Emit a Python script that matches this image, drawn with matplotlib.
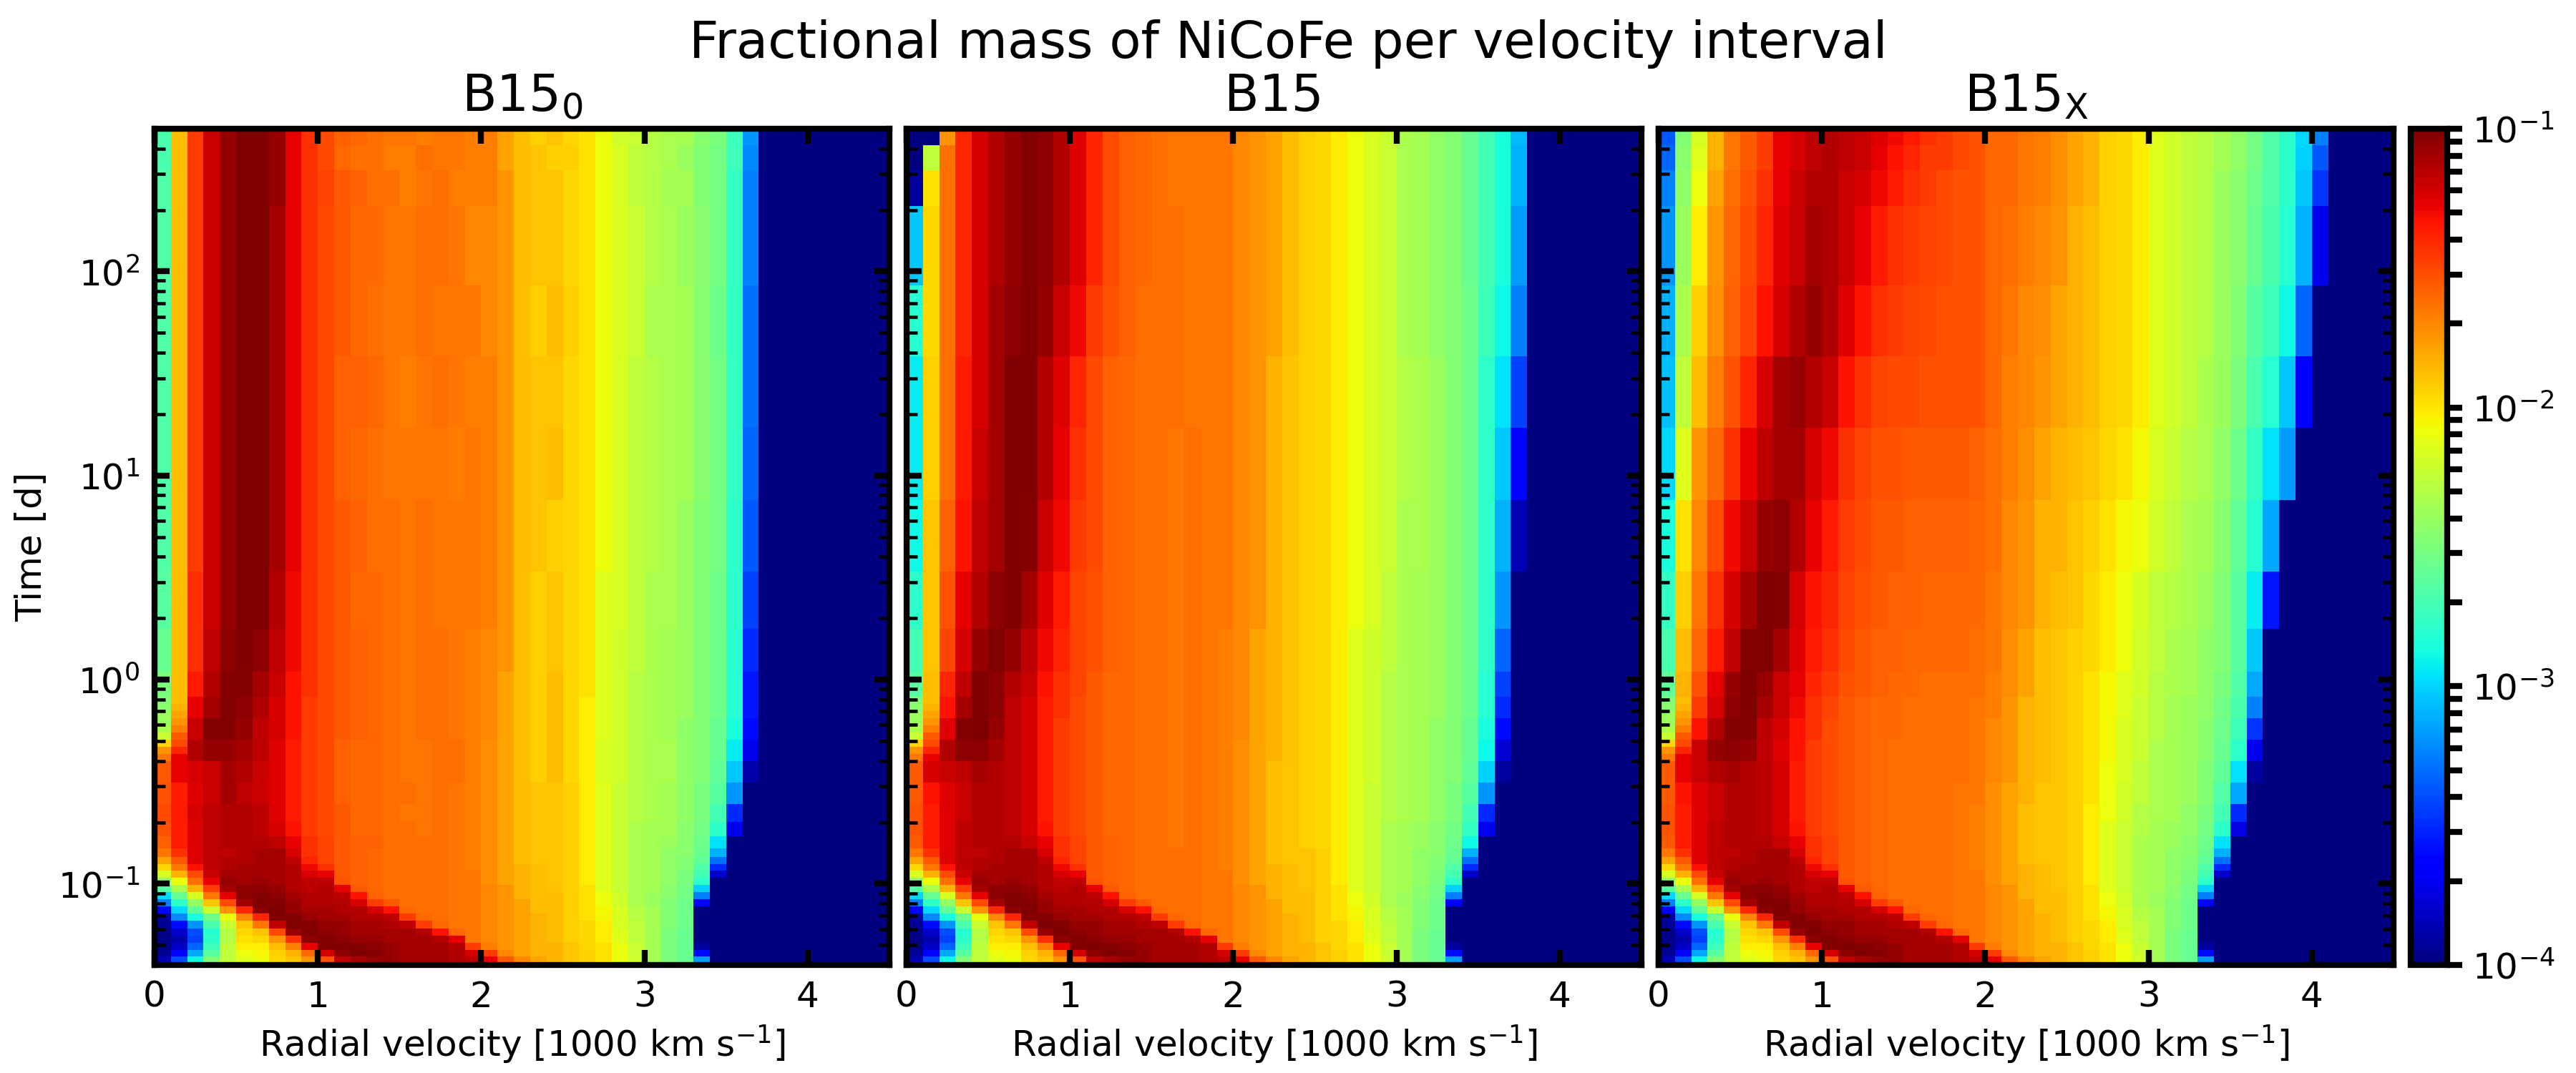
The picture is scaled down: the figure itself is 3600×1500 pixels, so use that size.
import numpy as np
import matplotlib
matplotlib.use('Agg')
import matplotlib.pyplot as plt
from matplotlib.colors import LogNorm
from matplotlib.ticker import LogLocator, NullFormatter

# Values: position along it in percent
# (0 = 1e-4, 100 = 1e-1), one inner list per 100 km/s velocity bin, early to late.

panel_titles = ['B15$_0$', 'B15', 'B15$_{\\rm X}$']
fig_title = 'Fractional mass of NiCoFe per velocity interval'
x_label = 'Radial velocity [1000 km s$^{-1}$]'
y_label = 'Time [d]'

velocity_edges = np.arange(46) * 0.1
time_edges = [0.040, 0.0439, 0.0475, 0.0515, 0.0558, 0.0605, 0.0658, 0.0713, 0.0773, 0.0838, 0.0908, 0.0984,
              0.1067, 0.1156, 0.1253, 0.1358, 0.1496, 0.1706, 0.2004, 0.2449, 0.3126, 0.398, 0.507, 0.647,
              0.824, 1.094, 1.774, 3.39, 7.60, 17.1, 38.3, 85.7, 209, 313, 414, 500]

# my first readings ran low against the colour bar, this corrects them
read_scale = [0, 5, 11, 18, 22, 27, 33, 37, 42, 48, 53, 57, 61, 64, 66, 67, 70, 72, 75, 78, 82, 85, 87, 89, 91, 93, 95, 97, 100]
true_scale = [0, 5, 12.5, 20, 25, 30, 34.5, 39.5, 44, 49, 53.6, 58, 62, 66, 68, 69, 72, 75, 77.5, 80, 83, 85.6, 88, 90, 91.5, 93.4, 95.6, 97.8, 100]

# first 16 time bins, nearly the same in all three models
early = [
    [5, 2, 1, 1, 1, 2, 3, 10, 22, 32, 44, 52, 60, 66, 71, 76],
    [18, 11, 6, 4, 6, 12, 23, 32, 38, 46, 55, 62, 70, 76, 80, 85],
    [35, 26, 20, 17, 18, 24, 36, 45, 52, 60, 70, 77, 82, 88, 91, 91],
    [50, 44, 40, 38, 37, 42, 47, 58, 68, 76, 84, 90, 93, 94, 94, 94],
    [57, 57, 57, 56, 56, 58, 62, 72, 82, 90, 96, 97, 96, 95, 95, 94],
    [61, 62, 64, 65, 66, 68, 74, 86, 96, 98, 98, 96, 96, 96, 95, 95],
    [62, 63, 64, 66, 68, 76, 86, 98, 100, 99, 98, 97, 96, 96, 96, 96],
    [66, 67, 69, 72, 82, 94, 99, 100, 99, 98, 97, 96, 96, 96, 96, 96],
    [68, 70, 75, 85, 97, 100, 99, 97, 97, 96, 95, 95, 95, 95, 94, 92],
    [72, 78, 90, 98, 100, 99, 97, 96, 95, 95, 94, 94, 92, 89, 86, 85],
    [81, 92, 99, 100, 98, 97, 96, 96, 95, 95, 95, 94, 90, 85, 83, 83],
    [94, 98, 100, 98, 97, 97, 96, 95, 95, 94, 90, 81, 80, 80, 80, 80],
    [96, 100, 99, 97, 96, 96, 95, 95, 92, 88, 80, 79, 79, 79, 79, 79],
    [97, 99, 98, 97, 96, 96, 95, 92, 84, 79, 78, 78, 78, 78, 78, 78],
    [97, 97, 97, 96, 96, 95, 94, 88, 80, 77, 77, 77, 77, 77, 77, 77],
    [96, 96, 96, 96, 96, 94, 84, 78, 77, 77, 77, 77, 77, 77, 77, 77],
    [96, 96, 96, 96, 95, 84, 78, 77, 77, 77, 77, 77, 77, 77, 77, 77],
    [96, 96, 96, 95, 88, 78, 77, 77, 77, 77, 77, 77, 77, 77, 77, 77],
    [95, 95, 95, 90, 78, 76, 76, 76, 76, 76, 76, 76, 76, 76, 76, 76],
    [94, 92, 84, 76, 76, 76, 76, 76, 76, 76, 76, 76, 76, 75, 75, 75],
    [90, 84, 75, 74, 74, 74, 74, 74, 74, 74, 74, 73, 73, 73, 73, 73],
    [80, 74, 72, 72, 72, 72, 72, 72, 72, 72, 72, 71, 71, 71, 71, 71],
    [74, 71, 71, 71, 71, 71, 71, 71, 71, 70, 70, 70, 70, 70, 69, 69],
    [71, 70, 70, 70, 70, 70, 70, 69, 69, 69, 69, 69, 69, 69, 68, 68],
    [70, 70, 70, 69, 69, 69, 69, 69, 69, 69, 68, 68, 68, 68, 68, 68],
    [68, 68, 68, 67, 67, 67, 67, 67, 67, 67, 67, 67, 67, 67, 67, 67],
    [67, 67, 66, 66, 66, 66, 65, 65, 65, 65, 65, 64, 64, 64, 64, 64],
    [65, 65, 65, 64, 64, 64, 63, 63, 62, 62, 61, 61, 61, 61, 61, 61],
    [62, 62, 62, 61, 61, 60, 60, 60, 59, 59, 58, 58, 58, 58, 58, 58],
    [59, 58, 58, 57, 57, 57, 56, 56, 55, 55, 55, 55, 55, 55, 55, 55],
    [54, 54, 54, 54, 54, 54, 54, 54, 53, 53, 54, 54, 54, 54, 54, 54],
    [49, 49, 49, 49, 49, 50, 50, 50, 50, 51, 51, 52, 52, 52, 52, 52],
    [46, 46, 46, 46, 46, 47, 47, 47, 47, 48, 48, 49, 49, 50, 50, 51],
    [25, 12, 3, 0, 0, 0, 0, 0, 10, 22, 31, 38, 41, 43, 45, 46],
    [0, 0, 0, 0, 0, 0, 0, 0, 0, 0, 0, 0, 6, 15, 21, 27],
]

# remaining 19 time bins per model
late_b15_0 = [
    [79, 81, 82, 81, 80, 68, 58, 52, 49, 46, 44, 43, 43, 43, 43, 43, 43, 42, 42],
    [87, 87, 87, 87, 90, 84, 71, 70, 69, 69, 69, 69, 69, 69, 69, 69, 69, 69, 69],
    [91, 91, 92, 91, 92, 95, 93, 90, 87, 85, 85, 84, 84, 84, 84, 84, 84, 84, 84],
    [94, 94, 94, 93, 93, 97, 99, 96, 95, 94, 93, 93, 93, 93, 93, 93, 93, 93, 93],
    [95, 95, 95, 96, 96, 97, 99, 99, 99, 98, 97, 97, 97, 97, 97, 97, 97, 97, 97],
    [95, 95, 95, 94, 95, 96, 97, 98, 99, 100, 100, 100, 100, 100, 100, 100, 100, 100, 100],
    [95, 94, 94, 93, 93, 94, 94, 95, 96, 98, 100, 100, 100, 100, 100, 100, 100, 100, 100],
    [94, 92, 91, 91, 91, 91, 92, 92, 93, 94, 95, 96, 96, 96, 96, 96, 97, 97, 97],
    [90, 88, 87, 87, 87, 87, 88, 88, 88, 89, 89, 90, 90, 90, 90, 90, 90, 90, 90],
    [85, 84, 84, 84, 84, 84, 84, 84, 85, 85, 85, 85, 85, 85, 85, 85, 85, 85, 85],
    [83, 82, 82, 82, 82, 82, 82, 82, 82, 82, 82, 82, 82, 82, 82, 82, 83, 82, 82],
    [80, 80, 80, 79, 79, 79, 80, 80, 80, 80, 80, 80, 79, 79, 80, 80, 80, 78, 79],
    [79, 78, 78, 78, 78, 78, 79, 79, 79, 79, 78, 79, 78, 79, 78, 78, 79, 77, 78],
    [79, 78, 78, 78, 78, 78, 78, 78, 78, 78, 78, 77, 77, 78, 77, 78, 77, 77, 77],
    [77, 77, 77, 77, 77, 77, 77, 77, 77, 77, 77, 77, 76, 76, 76, 76, 77, 75, 76],
    [77, 77, 76, 77, 76, 76, 76, 76, 76, 76, 76, 76, 76, 75, 76, 76, 75, 75, 76],
    [77, 76, 76, 76, 76, 76, 77, 77, 77, 77, 77, 77, 76, 76, 77, 77, 76, 77, 75],
    [77, 77, 77, 77, 77, 77, 77, 77, 77, 77, 76, 76, 76, 77, 76, 77, 77, 76, 76],
    [76, 76, 76, 76, 77, 77, 76, 76, 76, 76, 76, 76, 75, 76, 76, 76, 75, 76, 76],
    [75, 75, 75, 75, 75, 75, 75, 75, 75, 75, 76, 76, 76, 75, 76, 74, 75, 75, 75],
    [73, 73, 73, 73, 73, 73, 74, 74, 74, 74, 75, 75, 75, 75, 74, 74, 75, 75, 75],
    [71, 71, 71, 71, 71, 71, 71, 71, 71, 72, 72, 72, 72, 72, 72, 72, 72, 71, 71],
    [69, 69, 69, 69, 69, 69, 69, 69, 69, 69, 69, 69, 69, 69, 69, 69, 69, 69, 69],
    [68, 68, 68, 68, 67, 67, 67, 67, 67, 67, 67, 68, 68, 68, 67, 68, 68, 68, 67],
    [68, 68, 68, 68, 69, 69, 69, 69, 69, 68, 68, 67, 69, 68, 69, 68, 68, 67, 68],
    [67, 67, 67, 67, 66, 66, 66, 66, 66, 66, 66, 66, 66, 66, 67, 66, 66, 67, 66],
    [64, 64, 64, 64, 64, 64, 64, 64, 65, 65, 65, 65, 65, 65, 65, 65, 65, 65, 65],
    [61, 61, 61, 61, 60, 60, 61, 61, 61, 61, 61, 62, 62, 62, 62, 62, 62, 62, 62],
    [58, 58, 58, 58, 59, 59, 59, 59, 59, 59, 60, 60, 60, 60, 60, 60, 60, 60, 59],
    [55, 55, 56, 56, 56, 56, 56, 56, 56, 57, 57, 57, 57, 57, 58, 58, 57, 57, 58],
    [54, 54, 55, 55, 55, 55, 55, 55, 55, 55, 55, 56, 56, 56, 55, 56, 56, 56, 56],
    [53, 54, 54, 54, 55, 55, 54, 54, 54, 54, 55, 55, 55, 55, 55, 55, 54, 55, 55],
    [51, 51, 52, 52, 52, 52, 52, 53, 53, 53, 53, 53, 54, 54, 54, 53, 54, 53, 54],
    [47, 48, 49, 49, 50, 50, 50, 50, 50, 50, 50, 50, 51, 51, 51, 51, 50, 50, 51],
    [33, 38, 41, 44, 45, 46, 46, 47, 47, 47, 47, 48, 48, 48, 47, 48, 48, 48, 49],
    [0, 9, 15, 24, 30, 34, 36, 37, 37, 37, 38, 38, 39, 39, 39, 39, 39, 40, 40],
    [0, 0, 0, 0, 4, 9, 12, 13, 13, 15, 17, 19, 20, 21, 21, 22, 22, 23, 24],
]

late_b15 = [
    [80, 81, 81, 80, 80, 72, 52, 47, 44, 41, 38, 35, 34, 34, 37, 30, 3, 0, 0],
    [87, 87, 87, 88, 92, 88, 77, 71, 69, 68, 68, 68, 67, 67, 66, 66, 65, 57, 0],
    [91, 91, 91, 91, 93, 95, 91, 88, 86, 83, 81, 79, 77, 77, 77, 77, 77, 77, 72],
    [94, 94, 93, 93, 94, 98, 99, 96, 94, 92, 90, 88, 87, 87, 86, 86, 86, 86, 86],
    [95, 95, 95, 95, 96, 98, 100, 100, 100, 97, 95, 94, 93, 92, 92, 92, 92, 92, 92],
    [95, 95, 95, 95, 95, 96, 97, 98, 98, 100, 98, 96, 96, 96, 96, 95, 95, 95, 95],
    [95, 94, 94, 94, 94, 94, 94, 94, 95, 97, 100, 100, 100, 100, 98, 97, 97, 97, 97],
    [93, 92, 92, 92, 92, 92, 92, 92, 93, 94, 96, 99, 100, 100, 100, 99, 99, 99, 99],
    [90, 88, 87, 87, 87, 87, 87, 87, 88, 89, 91, 93, 95, 95, 97, 98, 98, 98, 98],
    [85, 84, 84, 84, 84, 84, 84, 85, 85, 86, 87, 89, 90, 91, 93, 95, 95, 95, 95],
    [83, 82, 82, 82, 82, 82, 82, 82, 83, 83, 83, 84, 85, 86, 89, 91, 91, 91, 91],
    [80, 80, 80, 80, 80, 80, 80, 80, 80, 81, 81, 82, 82, 82, 84, 86, 86, 86, 86],
    [79, 78, 78, 78, 78, 78, 78, 78, 78, 79, 79, 79, 79, 79, 81, 82, 82, 82, 82],
    [78, 78, 78, 78, 78, 78, 78, 78, 78, 78, 78, 78, 78, 78, 79, 79, 79, 79, 79],
    [77, 77, 77, 77, 77, 77, 77, 77, 77, 77, 77, 77, 77, 77, 77, 78, 78, 78, 78],
    [77, 77, 77, 77, 77, 77, 77, 77, 77, 77, 77, 77, 77, 77, 77, 77, 77, 77, 77],
    [76, 76, 76, 76, 76, 76, 76, 76, 76, 76, 76, 76, 76, 77, 77, 77, 76, 76, 76],
    [77, 77, 77, 77, 77, 77, 77, 77, 77, 77, 77, 77, 77, 76, 76, 76, 76, 76, 76],
    [76, 76, 76, 76, 76, 76, 76, 76, 76, 76, 76, 76, 76, 76, 76, 76, 76, 76, 76],
    [75, 75, 75, 75, 75, 75, 75, 75, 75, 75, 76, 76, 76, 76, 76, 76, 76, 76, 76],
    [73, 73, 73, 73, 73, 73, 74, 74, 74, 74, 74, 74, 74, 74, 74, 74, 74, 74, 74],
    [71, 71, 71, 71, 71, 71, 71, 71, 71, 71, 72, 72, 72, 72, 72, 72, 72, 72, 72],
    [69, 69, 69, 69, 69, 70, 70, 70, 70, 70, 70, 70, 70, 70, 71, 71, 71, 71, 71],
    [68, 68, 68, 68, 68, 68, 68, 68, 68, 68, 68, 68, 68, 68, 69, 69, 69, 69, 69],
    [67, 67, 67, 67, 67, 67, 67, 67, 67, 67, 67, 67, 67, 67, 67, 67, 67, 67, 67],
    [66, 66, 66, 66, 66, 66, 66, 66, 66, 66, 66, 66, 66, 66, 66, 66, 66, 66, 66],
    [64, 64, 64, 64, 64, 64, 64, 64, 64, 64, 64, 64, 64, 64, 64, 64, 64, 64, 64],
    [61, 61, 61, 61, 61, 61, 61, 61, 61, 61, 62, 62, 62, 62, 62, 62, 62, 62, 62],
    [58, 58, 58, 58, 59, 59, 59, 59, 59, 59, 60, 60, 60, 60, 60, 60, 60, 60, 60],
    [55, 55, 56, 56, 56, 56, 56, 56, 56, 57, 57, 58, 58, 58, 58, 58, 58, 58, 58],
    [54, 54, 55, 55, 55, 55, 55, 55, 55, 55, 55, 55, 56, 56, 55, 55, 55, 55, 55],
    [53, 53, 54, 54, 54, 54, 54, 54, 54, 54, 54, 55, 55, 55, 54, 54, 54, 54, 54],
    [51, 51, 52, 52, 52, 52, 52, 53, 53, 53, 53, 53, 53, 53, 52, 52, 52, 52, 52],
    [47, 48, 49, 49, 50, 50, 50, 50, 50, 50, 50, 50, 50, 50, 50, 50, 50, 50, 50],
    [35, 39, 41, 44, 45, 46, 46, 47, 47, 47, 47, 47, 47, 47, 47, 46, 46, 46, 46],
    [0, 9, 15, 24, 31, 35, 36, 37, 37, 38, 38, 38, 38, 38, 40, 41, 41, 41, 41],
    [0, 0, 0, 0, 3, 7, 12, 15, 17, 20, 24, 27, 30, 33, 35, 36, 36, 36, 36],
    [0, 0, 0, 0, 0, 0, 0, 0, 0, 0, 0, 5, 11, 17, 22, 25, 27, 27, 28],
]

late_b15_x = [
    [80, 81, 81, 80, 80, 72, 52, 48, 45, 42, 39, 36, 32, 29, 27, 24, 22, 20, 19],
    [87, 87, 87, 88, 90, 86, 76, 72, 70, 69, 67, 65, 61, 57, 55, 53, 52, 51, 50],
    [91, 91, 91, 91, 93, 93, 88, 84, 81, 78, 76, 74, 72, 69, 67, 64, 62, 61, 60],
    [94, 94, 93, 93, 95, 97, 95, 92, 90, 87, 85, 82, 78, 75, 73, 72, 71, 70, 70],
    [95, 95, 95, 95, 96, 98, 99, 98, 97, 94, 92, 89, 85, 81, 79, 78, 77, 76, 76],
    [95, 95, 95, 95, 95, 97, 99, 100, 100, 99, 96, 93, 90, 86, 83, 82, 81, 80, 80],
    [95, 94, 94, 94, 94, 94, 94, 96, 97, 100, 100, 97, 94, 92, 88, 86, 85, 84, 84],
    [93, 92, 92, 92, 92, 91, 92, 93, 93, 96, 99, 98, 96, 96, 92, 91, 90, 90, 90],
    [90, 88, 87, 87, 87, 88, 88, 89, 90, 91, 92, 95, 96, 97, 95, 93, 93, 92, 92],
    [85, 84, 84, 84, 84, 84, 85, 85, 86, 87, 88, 90, 92, 95, 97, 96, 95, 94, 94],
    [83, 82, 82, 82, 82, 82, 82, 83, 84, 85, 86, 87, 89, 93, 95, 95, 95, 95, 95],
    [80, 80, 80, 80, 80, 80, 80, 80, 81, 82, 83, 84, 85, 88, 91, 93, 93, 94, 94],
    [79, 79, 79, 79, 79, 79, 79, 79, 80, 80, 81, 82, 83, 85, 88, 90, 92, 93, 93],
    [78, 78, 78, 78, 78, 78, 78, 78, 79, 79, 80, 80, 81, 83, 85, 87, 89, 90, 91],
    [77, 77, 77, 77, 77, 77, 78, 78, 78, 79, 79, 80, 81, 82, 84, 85, 87, 88, 89],
    [77, 77, 77, 77, 77, 77, 77, 77, 78, 78, 79, 79, 80, 82, 83, 84, 85, 86, 87],
    [77, 77, 77, 77, 77, 77, 77, 77, 77, 78, 78, 79, 80, 81, 82, 83, 84, 84, 85],
    [77, 77, 77, 77, 77, 77, 77, 77, 77, 78, 78, 79, 80, 81, 81, 82, 82, 84, 84],
    [76, 76, 76, 76, 77, 77, 77, 77, 77, 78, 78, 79, 80, 81, 81, 81, 81, 82, 82],
    [75, 75, 75, 76, 76, 76, 76, 76, 77, 77, 78, 78, 79, 81, 81, 81, 81, 81, 81],
    [73, 73, 73, 73, 74, 74, 74, 75, 75, 76, 76, 77, 77, 78, 78, 78, 78, 78, 78],
    [71, 71, 71, 71, 72, 72, 72, 72, 73, 73, 74, 74, 75, 75, 76, 77, 78, 78, 78],
    [69, 69, 69, 70, 70, 70, 70, 70, 71, 71, 72, 72, 73, 74, 74, 75, 76, 76, 76],
    [68, 68, 68, 68, 69, 69, 69, 69, 69, 69, 70, 70, 71, 72, 73, 74, 75, 75, 75],
    [68, 68, 68, 68, 68, 68, 68, 68, 68, 68, 69, 70, 70, 71, 71, 72, 73, 73, 73],
    [67, 67, 67, 67, 67, 67, 67, 67, 67, 67, 68, 68, 69, 70, 70, 70, 71, 71, 71],
    [64, 64, 64, 65, 65, 65, 65, 65, 65, 66, 66, 67, 68, 69, 69, 69, 70, 70, 70],
    [61, 61, 62, 62, 62, 63, 63, 63, 63, 64, 64, 65, 66, 67, 67, 67, 67, 67, 67],
    [58, 58, 59, 59, 60, 60, 60, 61, 61, 62, 62, 63, 65, 66, 66, 66, 66, 66, 66],
    [55, 56, 56, 57, 57, 58, 58, 58, 59, 59, 60, 62, 63, 64, 64, 64, 64, 64, 64],
    [54, 54, 55, 55, 55, 55, 56, 56, 56, 57, 57, 59, 60, 61, 61, 61, 61, 61, 61],
    [53, 53, 54, 54, 54, 54, 54, 54, 55, 55, 56, 57, 58, 59, 59, 59, 59, 59, 59],
    [51, 52, 52, 53, 53, 53, 53, 53, 54, 54, 55, 55, 56, 57, 57, 57, 57, 57, 57],
    [47, 48, 49, 50, 50, 51, 51, 52, 52, 52, 53, 54, 55, 55, 56, 56, 56, 56, 56],
    [33, 38, 41, 43, 45, 46, 47, 48, 49, 50, 50, 51, 52, 53, 53, 53, 53, 54, 54],
    [0, 8, 15, 26, 33, 38, 40, 42, 43, 44, 44, 45, 47, 49, 50, 51, 51, 52, 52],
    [0, 0, 0, 0, 3, 9, 16, 22, 26, 30, 34, 37, 39, 42, 44, 46, 47, 48, 48],
    [0, 0, 0, 0, 0, 0, 0, 0, 0, 0, 13, 26, 33, 37, 40, 42, 43, 43, 43],
    [0, 0, 0, 0, 0, 0, 0, 0, 0, 0, 0, 0, 25, 30, 35, 37, 38, 38, 38],
    [0, 0, 0, 0, 0, 0, 0, 0, 0, 0, 0, 0, 0, 10, 20, 27, 30, 31, 32],
    [0, 0, 0, 0, 0, 0, 0, 0, 0, 0, 0, 0, 0, 0, 0, 9, 16, 19, 22],
]

# the sharp change in the two slowest bins around 0.4-0.8 d needs finer time bins
fine_time_edges = [0.398, 0.4315, 0.468, 0.507, 0.5495, 0.5957, 0.647, 0.701, 0.760, 0.824]
fine_velocity_edges = [0, 0.1, 0.2]
fine_bin_0 = [76, 72, 66, 58, 55, 53, 53, 51, 50]
fine_bin_1 = [90, 86, 82, 80, 75, 72, 71, 70, 69]

models = [late_b15_0, late_b15, late_b15_x]


def to_mass(percent):
    percent = np.interp(percent, read_scale, true_scale)
    return 1e-4 * 10 ** (3 * percent / 100)


def full_grid(late):
    grid = np.zeros((len(time_edges) - 1, len(velocity_edges) - 1))
    grid[:16, :len(early)] = np.array(early).T
    grid[16:, :len(late)] = np.array(late).T
    return to_mass(grid)


def style_axis(ax):
    ax.set_xscale('linear')
    ax.set_yscale('log')
    ax.set_xlim(0, 4.5)
    ax.set_ylim(0.04, 500)
    ax.set_xticks([0, 1, 2, 3, 4])
    ax.yaxis.set_major_locator(LogLocator(base=10, numticks=10))
    ax.yaxis.set_minor_locator(LogLocator(base=10, subs=np.arange(2, 10), numticks=20))
    ax.yaxis.set_minor_formatter(NullFormatter())
    ax.tick_params(which='major', direction='in', top=True, right=True, length=5, width=2, labelsize=12, pad=5)
    ax.tick_params(which='minor', axis='y', direction='in', left=True, right=True, length=3.6, width=1.1)
    for spine in ax.spines.values():
        spine.set_linewidth(2)


W, H = 3600.0, 1500.0
norm = LogNorm(vmin=1e-4, vmax=1e-1)
fig = plt.figure(figsize=(12, 5), dpi=300)
lefts = [216, 1267, 2318]
mesh = None
for i, left in enumerate(lefts):
    ax = fig.add_axes([left / W, 1 - 1349 / H, 1027 / W, (1349 - 180) / H])
    mesh = ax.pcolormesh(velocity_edges, time_edges, full_grid(models[i]), cmap='jet', norm=norm, shading='flat')
    ax.pcolormesh(fine_velocity_edges, fine_time_edges, to_mass(np.array([fine_bin_0, fine_bin_1]).T),
                  cmap='jet', norm=norm, shading='flat')
    style_axis(ax)
    ax.set_title(panel_titles[i], fontsize=17, pad=6)
    ax.set_xlabel(x_label, fontsize=12, labelpad=3)
    if i == 0:
        ax.set_ylabel(y_label, fontsize=12, labelpad=3)
    else:
        ax.tick_params(axis='y', which='both', labelleft=False)

cax = fig.add_axes([3369 / W, 1 - 1349 / H, 51 / W, (1349 - 180) / H])
cbar = fig.colorbar(mesh, cax=cax)
cbar.outline.set_linewidth(2)
cax.tick_params(which='both', direction='out', length=5, width=2, labelsize=12)

fig.suptitle(fig_title, fontsize=17.3, x=0.5, y=1 - 62 / H, va='center')
fig.savefig('out.png', dpi=300)
